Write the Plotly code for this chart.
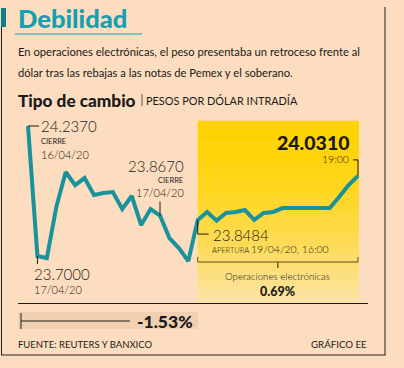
import plotly.graph_objects as go

# ---------------- data ----------------
tipo_cambio = [24.2370, 23.7000, 23.6917, 23.902, 24.047, 23.993, 24.022, 23.952,
               23.960, 23.964, 23.894, 23.948, 23.828, 23.894, 23.8670, 23.774,
               23.733, 23.679, 23.8484, 23.882, 23.846, 23.878, 23.882, 23.890,
               23.849, 23.878, 23.882, 23.898, 23.898, 23.898, 23.898, 23.898,
               23.898, 23.944, 23.993, 24.0310]
puntos = list(range(len(tipo_cambio)))

idx_cierre16 = 0
idx_minimo = 1
idx_cierre17 = 14
idx_apertura = 18
idx_final = 35

titulo = "Debilidad"
texto_1 = "En operaciones electrónicas, el peso presentaba un retroceso frente al"
texto_2 = "dólar tras las rebajas a las notas de Pemex y el soberano."
subtitulo = "Tipo de cambio"
unidad = "PESOS POR DÓLAR INTRADÍA"
var_total = "-1.53%"
var_electronica = "0.69%"
fuente = "FUENTE: REUTERS Y BANXICO"
credito = "GRÁFICO EE"

# ---------------- style ----------------
W, H = 404, 368
BG = "#FDDDBF"
TEAL = "#19929B"
TITLE_TEAL = "#13A0B2"
FONT = "Lato, 'Noto Sans', sans-serif"
INK = "#1a1a1a"


def px(x, y):
    return x / W, 1 - y / H


fig = go.Figure()
fig.add_trace(go.Scatter(x=puntos, y=tipo_cambio, mode="lines",
                         line=dict(color=TEAL, width=4, shape="linear"),
                         hoverinfo="skip", showlegend=False))

shapes = []
annotations = []

# yellow gradient highlight for electronic trading
N = 48
c0 = (0xFF, 0xD3, 0x00)
c1 = (0xFD, 0xE3, 0xA8)
for k in range(N):
    t = (k + 0.5) / N
    tt = t ** 1.7
    col = tuple(round(c0[j] + (c1[j] - c0[j]) * tt) for j in range(3))
    shapes.append(dict(type="rect", xref="x", yref="y domain",
                       x0=idx_apertura, x1=idx_final + 0.1,
                       y0=1 - (k + 1) / N, y1=1 - k / N + 0.002,
                       fillcolor="rgb(%d,%d,%d)" % col, line=dict(width=0),
                       layer="below"))


def pline(idx, x0, y0, x1, y1, color=INK, width=1):
    shapes.append(dict(type="line", xref="x", yref="y",
                       xsizemode="pixel", ysizemode="pixel",
                       xanchor=idx, yanchor=tipo_cambio[idx],
                       x0=x0, y0=y0, x1=x1, y1=y1,
                       line=dict(color=color, width=width)))


def plabel(idx, text, dx, dy, size, anchor="left", weight=400, color=INK):
    annotations.append(dict(xref="x", yref="y", x=idx, y=tipo_cambio[idx],
                            xshift=dx, yshift=dy, text=text, showarrow=False,
                            xanchor=anchor, yanchor="middle",
                            font=dict(family=FONT, size=size, color=color, weight=weight)))


def tlabel(x, y, text, size, anchor="left", weight=400, color=INK, family=FONT):
    xx, yy = px(x, y)
    annotations.append(dict(xref="paper", yref="paper", x=xx, y=yy, text=text,
                            showarrow=False, xanchor=anchor, yanchor="middle",
                            font=dict(family=family, size=size, color=color, weight=weight)))


# --- label: cierre 16/04
pline(idx_cierre16, 0, 0, 11, 0)
plabel(idx_cierre16, f"{tipo_cambio[idx_cierre16]:.4f}", 11, 0, 15, weight=300)
plabel(idx_cierre16, "CIERRE", 11, -15, 7.5)
plabel(idx_cierre16, "16/04/20", 11, -28, 11, weight=300)

# --- label: minimo 17/04
pline(idx_minimo, 0, 0, 0, -8)
plabel(idx_minimo, f"{tipo_cambio[idx_minimo]:.4f}", -5, -18, 15, weight=300)
plabel(idx_minimo, "17/04/20", -5, -33, 11, weight=300)

# --- label: cierre 17/04
pline(idx_cierre17, 0, 0, 0, 14)
plabel(idx_cierre17, f"{tipo_cambio[idx_cierre17]:.4f}", 26, 50, 15, anchor="right", weight=300)
plabel(idx_cierre17, "CIERRE", 25, 35, 7.5, anchor="right")
plabel(idx_cierre17, "17/04/20", 26, 23, 11, anchor="right", weight=300)

# --- label: apertura 19/04
pline(idx_apertura, 0, 0, 0, -14)
pline(idx_apertura, 0, -14, 11, -14)
plabel(idx_apertura, f"{tipo_cambio[idx_apertura]:.4f}", 13, -15, 15, weight=300)
plabel(idx_apertura, "APERTURA <span style='font-size:10.5px;font-weight:300'>19/04/20, 16:00</span>",
       12, -29, 7.5, weight=300)

# --- label: final 19:00
pline(idx_final, 0, 0, 0, 16)
pline(idx_final, 0, 16, -5, 16)
plabel(idx_final, f"{tipo_cambio[idx_final]:.4f}", -6, 33, 19.5, anchor="right", weight=900)
plabel(idx_final, "19:00", -7, 17, 10.5, anchor="right", weight=300)

# --- bracket for electronic operations
BR = "#5E4F22"
yb = 1 - 262 / H
yt = 1 - 257 / H
for (xa, ya, xb_, yb_) in [(idx_apertura, yb, idx_final, yb),
                           (idx_apertura, yb, idx_apertura, yt),
                           (idx_final, yb, idx_final, yt)]:
    shapes.append(dict(type="line", xref="x", yref="paper", x0=xa, y0=ya, x1=xb_, y1=yb_,
                       line=dict(color=BR, width=1)))
xmid = (idx_apertura + idx_final) / 2
shapes.append(dict(type="line", xref="x", yref="paper", x0=xmid, x1=xmid,
                   y0=yb, y1=1 - 268 / H, line=dict(color=INK, width=1)))
annotations.append(dict(xref="x", yref="paper", x=xmid, y=1 - 276 / H,
                        text="Operaciones electrónicas", showarrow=False,
                        xanchor="center", yanchor="middle",
                        font=dict(family=FONT, size=9.7, color=INK, weight=300)))
annotations.append(dict(xref="x", yref="paper", x=xmid, y=1 - 291 / H,
                        text=var_electronica, showarrow=False,
                        xanchor="center", yanchor="middle",
                        font=dict(family=FONT, size=12.5, color=INK, weight=900)))

# ---------------- header ----------------
def prect(x0, y0, x1, y1, color, lw=0, lc=None):
    a, b = px(x0, y0)
    c, d = px(x1, y1)
    shapes.append(dict(type="rect", xref="paper", yref="paper", x0=a, y0=d, x1=c, y1=b,
                       fillcolor=color, line=dict(width=lw, color=lc or color)))


def pseg(x0, y0, x1, y1, color=INK, width=1):
    a, b = px(x0, y0)
    c, d = px(x1, y1)
    shapes.append(dict(type="line", xref="paper", yref="paper", x0=a, y0=b, x1=c, y1=d,
                       line=dict(color=color, width=width)))


# frame
pseg(1.5, 8, 1.5, 355, "#222", 1)
pseg(385, 7, 385, 355, "#222", 1)
pseg(1, 355, 385.5, 355, "#222", 1)
prect(1, 8, 6, 27, "#0F7E86")
pseg(15, 34, 142, 34, TITLE_TEAL, 1)

tlabel(16, 18, titulo, 25.5, weight=900, color=TITLE_TEAL)
tlabel(16, 52, texto_1, 11.2, weight=400)
tlabel(16, 72, texto_2, 11.2, weight=400)
tlabel(16, 100, subtitulo, 17.2, weight=900)
pseg(142, 94, 142, 106, "#333", 0.8)
tlabel(144, 101, unidad, 10.9, weight=400)

# footer variation bar
prect(18, 312, 198, 329, "#EFD1B2")
pseg(21, 321, 130, 321, INK, 1)
pseg(21, 313, 21, 329, INK, 1)
tlabel(195, 321, var_total, 17.5, anchor="right", weight=900)
tlabel(16, 344, fuente, 9.5, weight=400)
tlabel(369, 344, credito, 9.7, anchor="right", weight=400)

# ---------------- axes ----------------
xscale = 330 / (idx_final - idx_cierre16)
xmin = idx_cierre16 - 10 / xscale
xmax = idx_final + 10 / xscale
yscale = (256 - 126) / (tipo_cambio[idx_cierre16] - tipo_cambio[idx_minimo])
ymax = tipo_cambio[idx_cierre16] + (126 - 121) / yscale
ymin = tipo_cambio[idx_minimo] - (303 - 256) / yscale

fig.update_layout(
    width=W, height=H,
    margin=dict(l=0, r=0, t=0, b=0),
    paper_bgcolor=BG, plot_bgcolor="rgba(0,0,0,0)",
    shapes=shapes, annotations=annotations,
    showlegend=False,
    xaxis=dict(domain=[18 / W, 368 / W], range=[xmin, xmax], showgrid=False,
               zeroline=False, showticklabels=False, ticks="",
               showline=True, linecolor=INK, linewidth=1.2),
    yaxis=dict(domain=[1 - 303 / H, 1 - 121 / H], range=[ymin, ymax], showgrid=False,
               zeroline=False, showticklabels=False, ticks="", showline=False),
)

fig.write_html("out.html", config={"displayModeBar": False},
               post_script="document.body.style.margin='0';document.body.style.background='" + BG + "';")
